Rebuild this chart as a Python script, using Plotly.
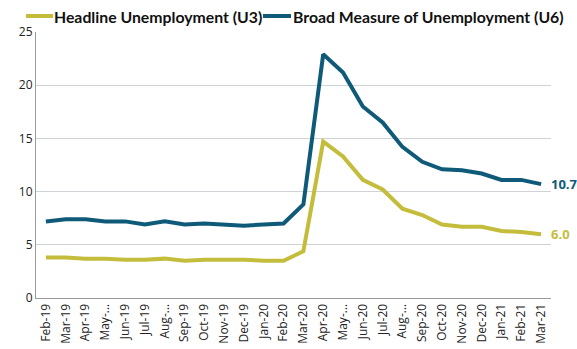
import plotly.graph_objects as go

months = ["Feb-19", "Mar-19", "Apr-19", "May-...", "Jun-19", "Jul-19", "Aug-...",
          "Sep-19", "Oct-19", "Nov-19", "Dec-19", "Jan-20", "Feb-20", "Mar-20",
          "Apr-20", "May-...", "Jun-20", "Jul-20", "Aug-...", "Sep-20", "Oct-20",
          "Nov-20", "Dec-20", "Jan-21", "Feb-21", "Mar-21"]

u3 = [3.8, 3.8, 3.7, 3.7, 3.6, 3.6, 3.7, 3.5, 3.6, 3.6, 3.6, 3.5, 3.5, 4.4,
      14.7, 13.3, 11.1, 10.2, 8.4, 7.8, 6.9, 6.7, 6.7, 6.3, 6.2, 6.0]
u6 = [7.2, 7.4, 7.4, 7.2, 7.2, 6.9, 7.2, 6.9, 7.0, 6.9, 6.8, 6.9, 7.0, 8.8,
      22.9, 21.2, 18.0, 16.5, 14.2, 12.8, 12.1, 12.0, 11.7, 11.1, 11.1, 10.7]

series_names = ["Headline Unemployment (U3)", "Broad Measure of Unemployment (U6)"]

U3_COLOR = "#c4bd3c"
U6_COLOR = "#0e5a78"
FONT = "Open Sans"
LEGEND_FONT = "Lato"

W, H = 577, 349
M_L, M_R, M_T, M_B = 36, 26, 32, 51
PLOT_W = W - M_L - M_R
PLOT_H = H - M_T - M_B


def px_to_paper_x(px):
    return (px - M_L) / PLOT_W


def px_to_paper_y(py):
    return (H - M_B - py) / PLOT_H


x = list(range(len(months)))

fig = go.Figure()
fig.add_trace(go.Scatter(x=x, y=u3, mode="lines", name=series_names[0],
                         line=dict(color=U3_COLOR, width=4), showlegend=False))
fig.add_trace(go.Scatter(x=x, y=u6, mode="lines", name=series_names[1],
                         line=dict(color=U6_COLOR, width=4), showlegend=False))

# end-of-series value labels
for vals, col in ((u6, U6_COLOR), (u3, U3_COLOR)):
    fig.add_annotation(x=x[-1], y=vals[-1], text=f"<b>{vals[-1]:.1f}</b>",
                       showarrow=False, xanchor="left", xshift=8,
                       font=dict(family=FONT, size=13, color=col))

# single-row key above the plot
legend_y = px_to_paper_y(16)
for (x0, x1, tx), name, col in zip(((26, 53, 52), (263, 291, 291)), series_names,
                                   (U3_COLOR, U6_COLOR)):
    fig.add_shape(type="line", xref="paper", yref="paper",
                  x0=px_to_paper_x(x0), x1=px_to_paper_x(x1), y0=legend_y, y1=legend_y,
                  line=dict(color=col, width=4))
    fig.add_annotation(xref="paper", yref="paper", x=px_to_paper_x(tx), y=legend_y,
                       text=f"<b>{name}</b>", showarrow=False,
                       xanchor="left", yanchor="middle",
                       font=dict(family=LEGEND_FONT, size=15.8, color="#111111"))

fig.update_layout(
    width=W, height=H,
    margin=dict(l=M_L, r=M_R, t=M_T, b=M_B, autoexpand=False),
    paper_bgcolor="white", plot_bgcolor="white",
    font=dict(family=FONT, size=12, color="#222222"),
    showlegend=False,
)
fig.update_xaxes(
    tickmode="array", tickvals=x, ticktext=months, tickangle=-90,
    range=[-0.5, len(months) - 0.5], showgrid=False, zeroline=False,
    showline=True, linecolor="#9a9a9a", linewidth=1,
    tickfont=dict(family=FONT, size=12, color="#222222"), ticks="",
)
fig.update_yaxes(
    range=[0, 25], dtick=5, showgrid=True, gridcolor="#cfd3d8", gridwidth=1,
    zeroline=False, showline=True, linecolor="#9a9a9a", linewidth=1,
    tickfont=dict(family=FONT, size=12, color="#222222"), ticks="",
)

fig.write_html("out.html")
